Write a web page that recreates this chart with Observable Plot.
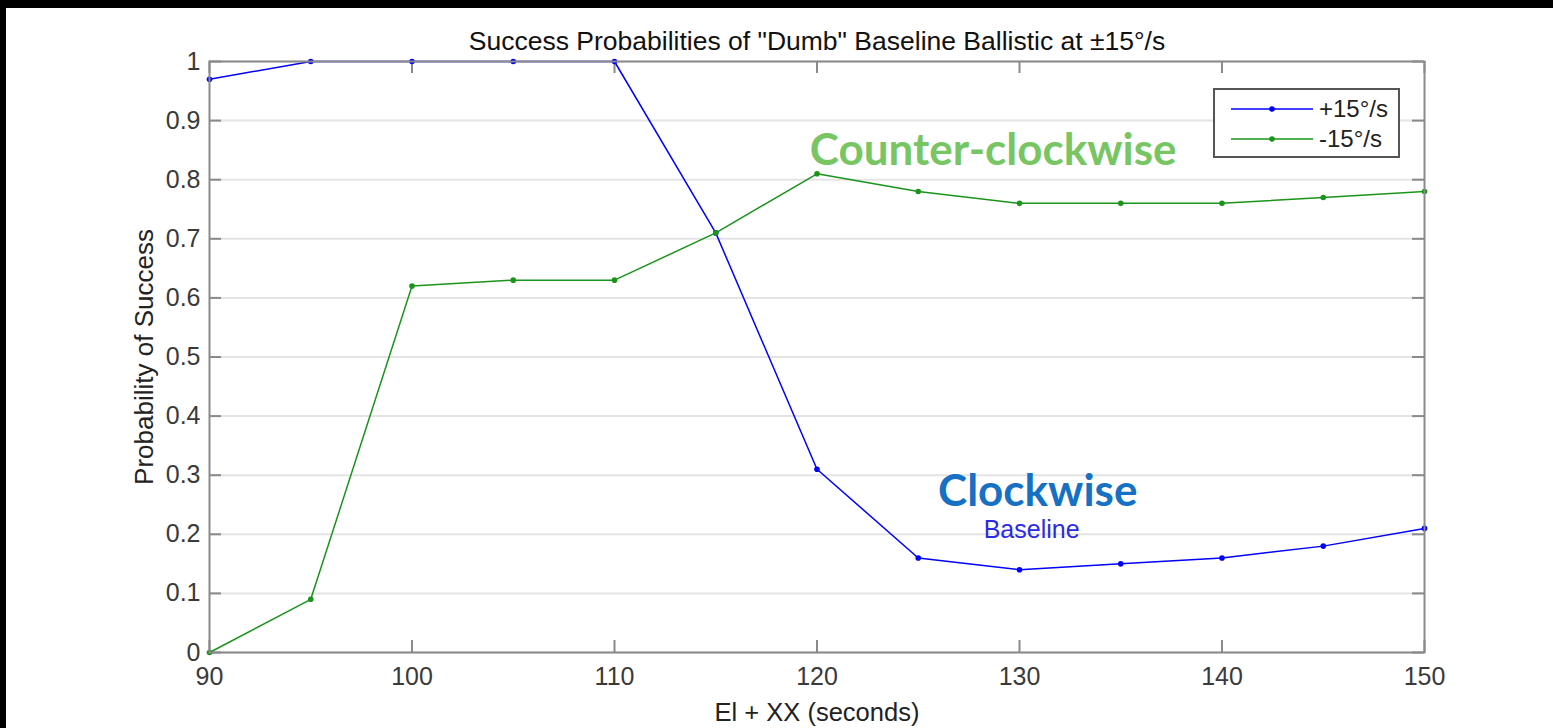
<!DOCTYPE html>
<html>
<head>
<meta charset="utf-8">
<script src="https://cdn.jsdelivr.net/npm/d3@7"></script>
<script src="https://cdn.jsdelivr.net/npm/@observablehq/plot@0.6"></script>
<style>
  html, body { margin: 0; padding: 0; background: white; }
  #wrap { position: relative; width: 1553px; height: 728px; overflow: hidden; }
  .band { position: absolute; background: black; }
  #legend { position: absolute; left: 1213px; top: 88px; width: 183px; height: 66px;
            border: 2px solid #555; background: white; font-family: "Liberation Sans", Arial, sans-serif;
            font-size: 24px; color: #222; }
  .lrow { position: absolute; left: 0; height: 30px; display: flex; align-items: center; }
</style>
</head>
<body>
<div id="wrap"></div>
<script>
// ---- data ----
const times = [90, 95, 100, 105, 110, 115, 120, 125, 130, 135, 140, 145, 150];
const plus15 = [0.97, 1.00, 1.00, 1.00, 1.00, 0.71, 0.31, 0.16, 0.14, 0.15, 0.16, 0.18, 0.21];
const minus15 = [0.00, 0.09, 0.62, 0.63, 0.63, 0.71, 0.81, 0.78, 0.76, 0.76, 0.76, 0.77, 0.78];
const seriesNames = ["+15°/s", "-15°/s"];
const seriesColors = ["#0000ff", "#1a941a"];
const xTicks = [90, 100, 110, 120, 130, 140, 150];
const yTicks = [0, 0.1, 0.2, 0.3, 0.4, 0.5, 0.6, 0.7, 0.8, 0.9, 1];
const yTickLabels = ["0", "0.1", "0.2", "0.3", "0.4", "0.5", "0.6", "0.7", "0.8", "0.9", "1"];
const titleText = "Success Probabilities of \"Dumb\" Baseline Ballistic at \u00b115\u00b0/s";
const xLabel = "El + XX (seconds)";
const yLabel = "Probability of Success";
const bigNotes = [
  {x: 128.7, y: 0.849, text: "Counter-clockwise", color: "#77c663"},
  {x: 130.9, y: 0.272, text: "Clockwise", color: "#1670c4"}
];
const smallNotes = [
  {x: 130.6, y: 0.207, text: "Baseline", color: "#2b2be6"}
];

const data = [];
times.forEach((t, i) => {
  data.push({t, p: plus15[i], s: seriesNames[0]});
});
times.forEach((t, i) => {
  data.push({t, p: minus15[i], s: seriesNames[1]});
});

const font = "'Liberation Sans', Arial, Helvetica, sans-serif";
const axisGray = "#8a8a8a";
const W = 1553, H = 728, mL = 209, mR = 129, mT = 61, mB = 76;
const tickLen = 12;
const frameW = W - mL - mR, frameH = H - mT - mB;

const chart = Plot.plot({
  width: W,
  height: H,
  marginLeft: mL,
  marginRight: mR,
  marginTop: mT,
  marginBottom: mB,
  style: {fontFamily: font, fontSize: "25px", background: "white", color: "#333"},
  x: {domain: [90, 150], ticks: xTicks},
  y: {domain: [0, 1], ticks: yTicks},
  color: {domain: seriesNames, range: seriesColors},
  marks: [
    Plot.gridY(yTicks, {stroke: "#e4e4e4", strokeOpacity: 1, strokeWidth: 2}),
    // inward ticks on all four sides
    Plot.tickX(xTicks, {x: d => d, insetTop: frameH - tickLen, stroke: axisGray, strokeWidth: 2}),
    Plot.tickX(xTicks, {x: d => d, insetBottom: frameH - tickLen, stroke: axisGray, strokeWidth: 2}),
    Plot.tickY(yTicks, {y: d => d, insetRight: frameW - tickLen, stroke: axisGray, strokeWidth: 2}),
    Plot.tickY(yTicks, {y: d => d, insetLeft: frameW - tickLen, stroke: axisGray, strokeWidth: 2}),
    Plot.line(data, {x: "t", y: "p", z: "s", stroke: "s", strokeWidth: 1.5}),
    Plot.dot(data, {x: "t", y: "p", fill: "s", r: 2.8}),
    Plot.frame({stroke: axisGray, strokeWidth: 2}),
    Plot.axisX(xTicks, {anchor: "bottom", tickSize: 0, tickPadding: 15, fill: "#3a3a3a", label: null, tickFormat: d => String(d)}),
    Plot.axisY(yTicks, {anchor: "left", tickSize: 0, tickPadding: 9, fill: "#3a3a3a", label: null, tickFormat: (d, i) => yTickLabels[i]}),
    Plot.text([titleText], {frameAnchor: "top", dy: -20, text: d => d, fill: "#111", fontSize: 26.5, lineAnchor: "middle"}),
    Plot.text([xLabel], {frameAnchor: "bottom", dy: 60, text: d => d, fill: "#222", fontSize: 25.5, lineAnchor: "middle"}),
    Plot.text([yLabel], {frameAnchor: "left", dx: -65, rotate: -90, text: d => d, fill: "#222", fontSize: 26, lineAnchor: "middle", textAnchor: "middle"}),
    Plot.text(bigNotes, {x: "x", y: "y", text: "text", fill: "color", fontSize: 44, fontWeight: "bold", fontFamily: "Lato, 'Open Sans', sans-serif", lineAnchor: "middle"}),
    Plot.text(smallNotes, {x: "x", y: "y", text: "text", fill: "color", fontSize: 25, lineAnchor: "middle"})
  ]
});

const wrapEl = document.getElementById("wrap");
wrapEl.appendChild(chart);

// black bands of the original screenshot
const bandTop = document.createElement("div");
bandTop.className = "band";
Object.assign(bandTop.style, {left: "0px", top: "0px", width: "1553px", height: "8px"});
wrapEl.appendChild(bandTop);
const bandLeft = document.createElement("div");
bandLeft.className = "band";
Object.assign(bandLeft.style, {left: "0px", top: "0px", width: "6px", height: "728px"});
wrapEl.appendChild(bandLeft);

// legend
const legendEl = document.createElement("div");
legendEl.id = "legend";
seriesNames.forEach((name, i) => {
  const row = document.createElement("div");
  row.className = "lrow";
  row.style.top = (4 + i * 30) + "px";
  const svgNS = "http://www.w3.org/2000/svg";
  const s = document.createElementNS(svgNS, "svg");
  s.setAttribute("width", "100");
  s.setAttribute("height", "30");
  const ln = document.createElementNS(svgNS, "line");
  ln.setAttribute("x1", "16"); ln.setAttribute("x2", "98");
  ln.setAttribute("y1", "15"); ln.setAttribute("y2", "15");
  ln.setAttribute("stroke", seriesColors[i]); ln.setAttribute("stroke-width", "1.5");
  const c = document.createElementNS(svgNS, "circle");
  c.setAttribute("cx", "57"); c.setAttribute("cy", "15"); c.setAttribute("r", "2.8");
  c.setAttribute("fill", seriesColors[i]);
  s.appendChild(ln); s.appendChild(c);
  const label = document.createElement("span");
  label.textContent = name;
  label.style.marginLeft = "4px";
  row.appendChild(s); row.appendChild(label);
  legendEl.appendChild(row);
});
wrapEl.appendChild(legendEl);
</script>
</body>
</html>
